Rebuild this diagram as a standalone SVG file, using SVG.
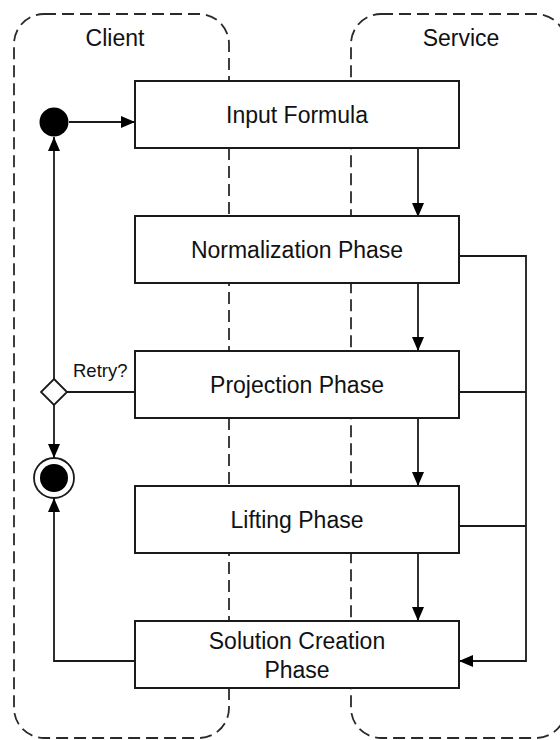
<svg xmlns="http://www.w3.org/2000/svg" width="560" height="740" viewBox="0 0 560 740">
<style>
.lane{fill:none;stroke:#2a2a2a;stroke-width:1.8;stroke-dasharray:12,6}
.box{fill:#fff;stroke:#1a1a1a;stroke-width:2}
.lbl{font-family:"Liberation Sans",Arial,sans-serif;font-size:23px;fill:#111;text-anchor:middle}
.small{font-family:"Liberation Sans",Arial,sans-serif;font-size:18.5px;fill:#111}
.conn{fill:none;stroke:#1a1a1a;stroke-width:1.8}
</style>
<defs>
<marker id="arr" markerUnits="userSpaceOnUse" markerWidth="15" markerHeight="13" refX="14" refY="6" orient="auto">
<path d="M0,0 L14,6 L0,12 z" fill="#000"/>
</marker>
</defs>
<rect width="560" height="740" fill="#fff"/>
<g id="lane-client">
<rect class="lane" x="14" y="14" width="215" height="724" rx="30" ry="30"/>
<text class="lbl" x="115" y="46">Client</text>
</g>
<g id="lane-service">
<rect class="lane" x="351" y="14" width="215" height="724" rx="30" ry="30"/>
<text class="lbl" x="461" y="46">Service</text>
</g>
<g id="connectors">
<line class="conn" x1="69" y1="122" x2="135" y2="122" marker-end="url(#arr)"/>
<line class="conn" x1="418" y1="148" x2="418" y2="217" marker-end="url(#arr)"/>
<line class="conn" x1="418" y1="283" x2="418" y2="351" marker-end="url(#arr)"/>
<line class="conn" x1="418" y1="418" x2="418" y2="486" marker-end="url(#arr)"/>
<line class="conn" x1="418" y1="553" x2="418" y2="621" marker-end="url(#arr)"/>
<polyline class="conn" points="459,256 526,256 526,661 459,661" marker-end="url(#arr)"/>
<line class="conn" x1="459" y1="392" x2="526" y2="392"/>
<line class="conn" x1="459" y1="526" x2="526" y2="526"/>
<line class="conn" x1="135" y1="392" x2="67" y2="392"/>
<line class="conn" x1="54" y1="379" x2="54" y2="137" marker-end="url(#arr)"/>
<line class="conn" x1="54" y1="405" x2="54" y2="458" marker-end="url(#arr)"/>
<polyline class="conn" points="135,661 54,661 54,498" marker-end="url(#arr)"/>
<text class="small" x="73" y="377">Retry?</text>
</g>
<g id="start">
<circle cx="54" cy="122" r="14.5" fill="#000"/>
</g>
<g id="decision">
<polygon points="54,379 67,392 54,405 41,392" fill="#fff" stroke="#1a1a1a" stroke-width="1.8"/>
</g>
<g id="end">
<circle cx="54" cy="478" r="20" fill="#fff" stroke="#1a1a1a" stroke-width="1.8"/>
<circle cx="54" cy="478" r="14" fill="#000"/>
</g>
<g id="input-formula">
<rect class="box" x="135" y="81" width="324" height="67"/>
<text class="lbl" x="297" y="123">Input Formula</text>
</g>
<g id="normalization">
<rect class="box" x="135" y="216" width="324" height="67"/>
<text class="lbl" x="297" y="258">Normalization Phase</text>
</g>
<g id="projection">
<rect class="box" x="135" y="351" width="324" height="67"/>
<text class="lbl" x="297" y="393">Projection Phase</text>
</g>
<g id="lifting">
<rect class="box" x="135" y="486" width="324" height="67"/>
<text class="lbl" x="297" y="528">Lifting Phase</text>
</g>
<g id="solution">
<rect class="box" x="135" y="621" width="324" height="67"/>
<text class="lbl" x="297" y="649">Solution Creation</text>
<text class="lbl" x="297" y="678">Phase</text>
</g>
</svg>
